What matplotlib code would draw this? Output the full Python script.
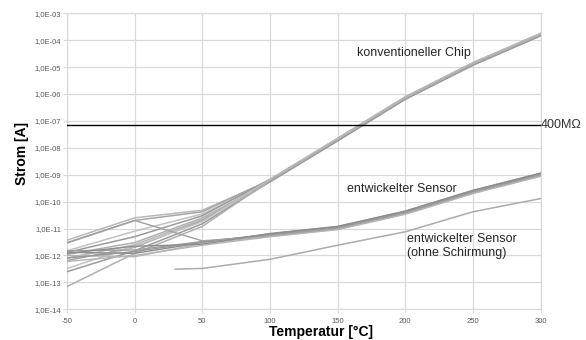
import numpy as np
import matplotlib
matplotlib.use("Agg")
import matplotlib.pyplot as plt
from matplotlib.ticker import FixedLocator, NullLocator

plt.rcParams['font.family'] = ['Liberation Sans', 'DejaVu Sans']

# Messpunkte (Temperatur in °C)
temp_kopf = [-50, 0, 50]
temp_schweif = [100, 150, 200, 250, 300]

# konventioneller Chip: Werte bei -50/0/50 °C je Probe, danach gemeinsamer Verlauf
chip_kopf = [
    [3.7e-12, 2.5e-11, 4.8e-11],
    [3.0e-12, 2.0e-11, 4.2e-11],
    [1.5e-12, 8.0e-12, 3.5e-11],
    [1.3e-12, 5.0e-12, 3.0e-11],
    [1.1e-12, 3.0e-12, 2.5e-11],
    [8.0e-13, 2.5e-12, 2.2e-11],
    [6.5e-13, 2.0e-12, 2.0e-11],
    [3.3e-13, 2.2e-12, 1.8e-11],
    [2.5e-13, 1.5e-12, 1.5e-11],
    [7.0e-14, 1.2e-12, 1.2e-11],
]
chip_schweif = [6.0e-10, 2.0e-8, 7.0e-7, 1.3e-5, 1.6e-4]
chip_streuung = [1.00, 1.08, 0.94, 1.12, 0.90, 1.04, 0.96, 1.10, 0.92, 1.02]

# entwickelter Sensor
sensor_kopf = [
    [1.5e-12, 1.6e-12, 3.3e-12],
    [1.3e-12, 1.2e-12, 3.0e-12],
    [1.0e-12, 9.0e-13, 2.8e-12],
    [8.0e-13, 1.4e-12, 3.2e-12],
    [2.9e-12, 2.0e-11, 3.5e-12],
    [1.2e-12, 2.2e-12, 2.6e-12],
    [6.0e-13, 1.0e-12, 2.4e-12],
]
sensor_schweif = [5.7e-12, 1.05e-11, 3.9e-11, 2.3e-10, 1.0e-9]
sensor_streuung = [1.00, 1.12, 0.90, 1.06, 0.94, 1.15, 0.87]

# entwickelter Sensor ohne Schirmung
ohne_temp = [30, 50, 100, 150, 200, 250, 300]
ohne_strom = [3.1e-13, 3.3e-13, 7.2e-13, 2.4e-12, 7.6e-12, 4.2e-11, 1.3e-10]

grenze_400M = 7.0e-8

y_exp = list(range(-14, -2))
x_ticks = [-50, 0, 50, 100, 150, 200, 250, 300]

grau_chip = ['#b8b8b8', '#a6a6a6', '#c2c2c2', '#9a9a9a', '#b0b0b0']
grau_sensor = ['#a0a0a0', '#8e8e8e', '#b4b4b4', '#989898']
gitter = '#d9d9d9'

fig = plt.figure(figsize=(5.86, 3.4), dpi=100)
ax = fig.add_axes([0.1143, 0.0903, 0.8081, 0.8706])
ax.set_yscale('log')

for i, kopf in enumerate(chip_kopf):
    werte = kopf + [v * chip_streuung[i] for v in chip_schweif]
    ax.plot(temp_kopf + temp_schweif, werte, color=grau_chip[i % len(grau_chip)],
            lw=1.1, zorder=3)

for i, kopf in enumerate(sensor_kopf):
    werte = kopf + [v * sensor_streuung[i] for v in sensor_schweif]
    ax.plot(temp_kopf + temp_schweif, werte, color=grau_sensor[i % len(grau_sensor)],
            lw=1.0, zorder=3)

ax.plot(ohne_temp, ohne_strom, color='#ababab', lw=1.1, zorder=3)

ax.axhline(grenze_400M, color='black', lw=1.0, zorder=4)
ax.text(1.0, grenze_400M, '400MΩ', transform=ax.get_yaxis_transform(),
        ha='left', va='center', fontsize=9, color='#333333')

ax.text(164, 3.3e-5, 'konventioneller Chip', fontsize=9, color='#262626', va='center')
ax.text(157, 2.95e-10, 'entwickelter Sensor', fontsize=9, color='#262626', va='center')
ax.text(201, 2.3e-12, 'entwickelter Sensor\n(ohne Schirmung)', fontsize=9,
        color='#262626', va='center', linespacing=1.2)

ax.set_xlim(-50, 300)
ax.set_ylim(1e-14, 1e-3)
ax.xaxis.set_major_locator(FixedLocator(x_ticks))
ax.set_xticklabels([str(t) for t in x_ticks])
ax.yaxis.set_major_locator(FixedLocator([10.0 ** e for e in y_exp]))
ax.yaxis.set_minor_locator(NullLocator())
ax.set_yticklabels(['1,0E-%02d' % -e for e in y_exp])

ax.grid(True, color=gitter, lw=0.9, zorder=0)
ax.set_axisbelow(True)
for s in ax.spines.values():
    s.set_color(gitter)
    s.set_linewidth(0.9)
ax.tick_params(axis='both', length=3, color=gitter, labelsize=5.5, labelcolor='#595959')
ax.tick_params(axis='y', pad=1)
ax.tick_params(axis='x', pad=3)

fig.text(0.037, 0.548, 'Strom [A]', rotation=90, fontsize=10, fontweight='bold',
         ha='center', va='center')
fig.text(0.547, 0.024, 'Temperatur [°C]', fontsize=10, fontweight='bold',
         ha='center', va='center')

fig.savefig('out.png', dpi=100)
